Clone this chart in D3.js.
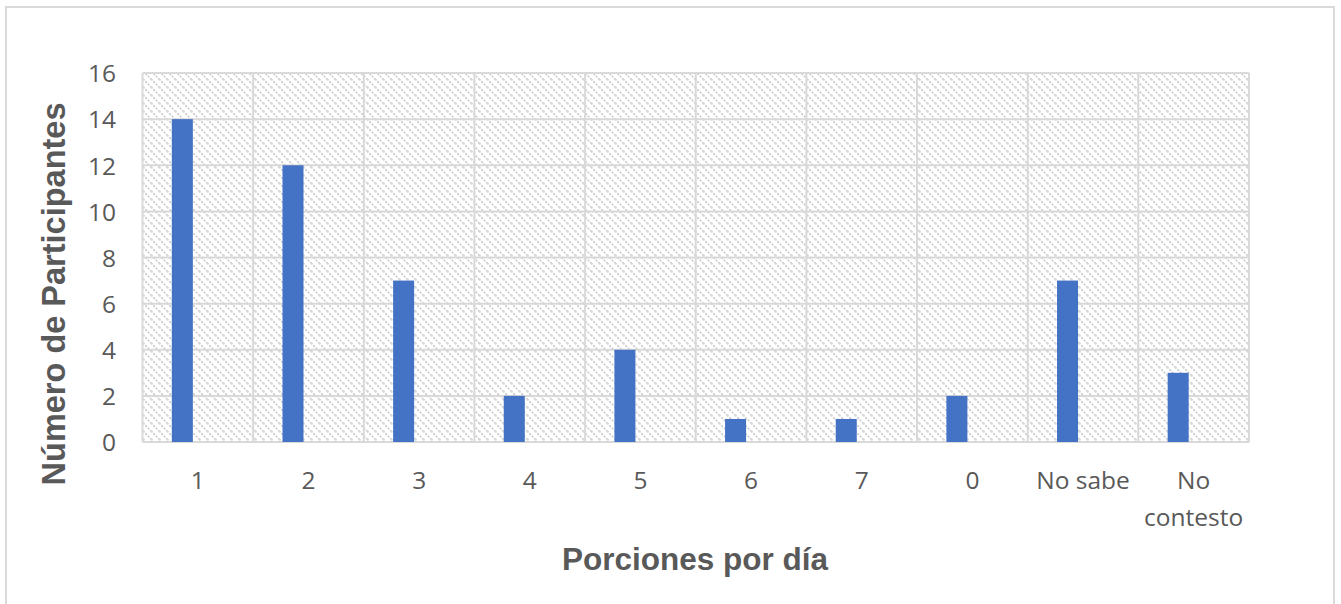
<!DOCTYPE html>
<html>
<head>
<meta charset="utf-8">
<script src="https://cdn.jsdelivr.net/npm/d3@7"></script>
<style>
  html, body { margin: 0; padding: 0; background: #fff; }
  svg { display: block; }
</style>
</head>
<body>
<svg id="chart" width="1341" height="604"></svg>
<script>
// Categories (servings per day) and number of participants
const categories = ["1", "2", "3", "4", "5", "6", "7", "0", "No sabe", "No contesto"];
const participants = [14, 12, 7, 2, 4, 1, 1, 2, 7, 3];
const yTicks = [0, 2, 4, 6, 8, 10, 12, 14, 16];
const yTitle = "Número de Participantes";
const xTitle = "Porciones por día";

const svg = d3.select("#chart");
const plot = { left: 142.5, right: 1249, top: 73, bottom: 442 };
const grey = "#595959";
const gridColor = "#d9d9d9";

// Outer chart frame
svg.append("rect")
  .attr("x", 6).attr("y", 7).attr("width", 1328).attr("height", 620)
  .attr("fill", "#fff").attr("stroke", gridColor).attr("stroke-width", 2);

// Diagonal dashed hatch for the plot background
const defs = svg.append("defs");
const pat = defs.append("pattern")
  .attr("id", "hatch").attr("patternUnits", "userSpaceOnUse")
  .attr("width", 8).attr("height", 8);
pat.append("rect").attr("width", 8).attr("height", 8).attr("fill", "#fff");
pat.append("path")
  .attr("d", "M-1,-1 L9,9 M-1,7 L1,9 M7,-1 L9,1")
  .attr("stroke", "#c9c9c9").attr("stroke-width", 1.6)
  .attr("stroke-dasharray", "2,1.4");

const x = d3.scaleBand().domain(categories).range([plot.left, plot.right]).padding(0);
const y = d3.scaleLinear().domain([0, 16]).range([plot.bottom, plot.top]);

svg.append("rect")
  .attr("x", plot.left).attr("y", plot.top)
  .attr("width", plot.right - plot.left).attr("height", plot.bottom - plot.top)
  .attr("fill", "url(#hatch)");

// Horizontal gridlines
svg.append("g").selectAll("line").data(yTicks).join("line")
  .attr("x1", plot.left).attr("x2", plot.right)
  .attr("y1", d => y(d)).attr("y2", d => y(d))
  .attr("stroke", gridColor).attr("stroke-width", 2);

// Vertical gridlines at category boundaries
const bounds = categories.map(c => x(c)).concat([x(categories[categories.length - 1]) + x.bandwidth()]);
svg.append("g").selectAll("line").data(bounds).join("line")
  .attr("x1", d => d).attr("x2", d => d)
  .attr("y1", plot.top).attr("y2", plot.bottom)
  .attr("stroke", gridColor).attr("stroke-width", 2);

// Bars (sit left of the category centre)
const bw = x.bandwidth();
svg.append("g").selectAll("rect").data(categories).join("rect")
  .attr("x", (d) => x(d) + bw * 0.265)
  .attr("width", bw * 0.19)
  .attr("y", (d, i) => y(participants[i]))
  .attr("height", (d, i) => y(0) - y(participants[i]))
  .attr("fill", "#4472c4");

// Y axis tick labels
const yAxis = d3.axisLeft(y).tickValues(yTicks).tickSize(0).tickPadding(0);
const yG = svg.append("g").attr("transform", `translate(${116},0)`).call(yAxis);
yG.select(".domain").remove();
yG.selectAll("text")
  .attr("font-family", "'Open Sans', sans-serif")
  .attr("font-size", 24.5).attr("fill", grey).attr("dy", "0.36em");

// X axis tick labels (wrapped)
const xAxis = d3.axisBottom(x).tickSize(0).tickPadding(0).tickFormat("");
const xG = svg.append("g").attr("transform", `translate(0,${plot.bottom})`).call(xAxis);
xG.select(".domain").remove();
xG.selectAll(".tick").each(function(d) {
  const t = d3.select(this).append("text")
    .attr("font-family", "'Open Sans', sans-serif")
    .attr("font-size", 24.5).attr("fill", grey)
    .attr("text-anchor", "middle").attr("y", 47);
  const lines = d === "No contesto" ? ["No", "contesto"] : [d];
  lines.forEach((ln, i) => {
    t.append("tspan").attr("x", 0).attr("dy", i === 0 ? 0 : 37).text(ln);
  });
});

// Axis titles
svg.append("text")
  .attr("transform", `translate(65,${294}) rotate(-90)`)
  .attr("text-anchor", "middle")
  .attr("font-family", "'Liberation Sans', Arial, sans-serif")
  .attr("font-weight", "bold").attr("font-size", 32.5).attr("fill", grey)
  .text(yTitle);

svg.append("text")
  .attr("x", 695).attr("y", 570)
  .attr("text-anchor", "middle")
  .attr("font-family", "'Liberation Sans', Arial, sans-serif")
  .attr("font-weight", "bold").attr("font-size", 31.5).attr("fill", grey)
  .text(xTitle);
</script>
</body>
</html>
